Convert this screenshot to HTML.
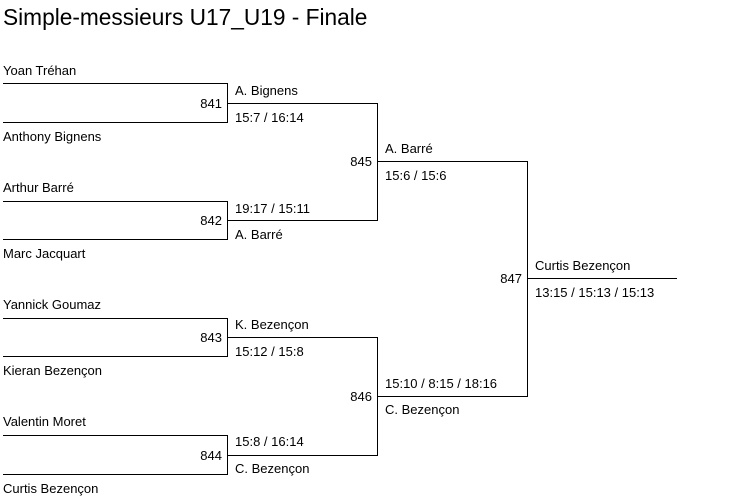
<!DOCTYPE html>
<html><head><meta charset="utf-8"><style>
body{margin:0;width:753px;height:504px;background:#fff;position:relative;overflow:hidden;font-family:"Liberation Sans",Arial,sans-serif;color:#000}
.t{position:absolute;font-size:13px;line-height:16px;white-space:nowrap}
.r{text-align:right;width:61px}
h1{position:absolute;left:3px;top:3px;margin:0;font-weight:normal;font-size:22.7px;line-height:28px}
svg{position:absolute;left:0;top:0}
</style></head><body>
<h1>Simple-messieurs U17_U19 - Finale</h1>
<svg width="753" height="504"><g stroke="#000" stroke-width="1" fill="none" shape-rendering="crispEdges">
<polyline points="3,83.5 227.5,83.5 227.5,122.5 3,122.5"/>
<polyline points="3,201.5 227.5,201.5 227.5,239.5 3,239.5"/>
<polyline points="3,318.5 227.5,318.5 227.5,356.5 3,356.5"/>
<polyline points="3,435.5 227.5,435.5 227.5,474.5 3,474.5"/>
<polyline points="227,103.5 377.5,103.5 377.5,220.5 227,220.5"/>
<polyline points="227,337.5 377.5,337.5 377.5,455.5 227,455.5"/>
<polyline points="377,161.5 527.5,161.5 527.5,396.5 377,396.5"/>
<line x1="527" y1="278.5" x2="677" y2="278.5"/>
</g></svg>
<div class="t" style="left:3px;top:63px">Yoan Tréhan</div>
<div class="t" style="left:3px;top:129px">Anthony Bignens</div>
<div class="t" style="left:3px;top:180px">Arthur Barré</div>
<div class="t" style="left:3px;top:246px">Marc Jacquart</div>
<div class="t" style="left:3px;top:297px">Yannick Goumaz</div>
<div class="t" style="left:3px;top:363px">Kieran Bezençon</div>
<div class="t" style="left:3px;top:414px">Valentin Moret</div>
<div class="t" style="left:3px;top:481px">Curtis Bezençon</div>

<div class="t r" style="left:161px;top:96px">841</div>
<div class="t r" style="left:161px;top:213px">842</div>
<div class="t r" style="left:161px;top:330px">843</div>
<div class="t r" style="left:161px;top:448px">844</div>
<div class="t r" style="left:311px;top:154px">845</div>
<div class="t r" style="left:311px;top:389px">846</div>
<div class="t r" style="left:461px;top:271px">847</div>

<div class="t" style="left:235px;top:83px">A. Bignens</div>
<div class="t" style="left:235px;top:110px">15:7 / 16:14</div>
<div class="t" style="left:235px;top:201px">19:17 / 15:11</div>
<div class="t" style="left:235px;top:227px">A. Barré</div>
<div class="t" style="left:235px;top:317px">K. Bezençon</div>
<div class="t" style="left:235px;top:344px">15:12 / 15:8</div>
<div class="t" style="left:235px;top:434px">15:8 / 16:14</div>
<div class="t" style="left:235px;top:461px">C. Bezençon</div>

<div class="t" style="left:385px;top:141px">A. Barré</div>
<div class="t" style="left:385px;top:168px">15:6 / 15:6</div>
<div class="t" style="left:385px;top:376px">15:10 / 8:15 / 18:16</div>
<div class="t" style="left:385px;top:402px">C. Bezençon</div>

<div class="t" style="left:535px;top:258px">Curtis Bezençon</div>
<div class="t" style="left:535px;top:285px">13:15 / 15:13 / 15:13</div>
</body></html>
